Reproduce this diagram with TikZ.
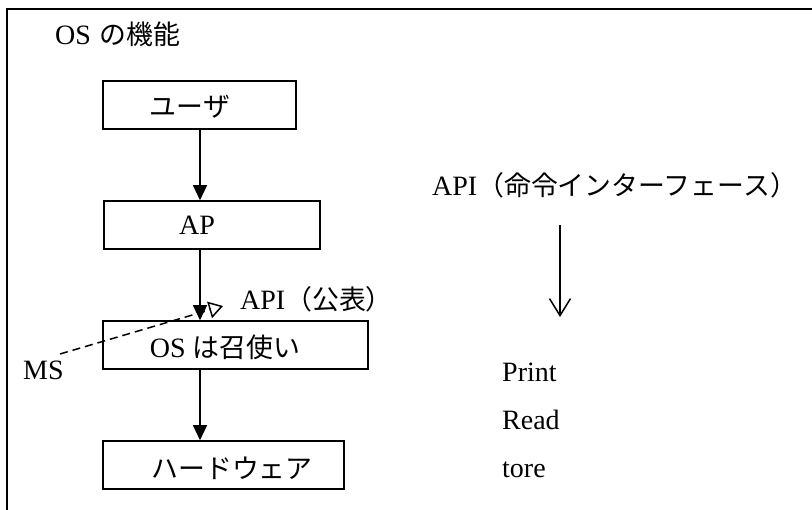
\documentclass[tikz,border=0pt]{standalone}
\usepackage{fontspec}
\setmainfont{Liberation Serif}
\newfontfamily\jp[Scale=0.96]{Noto Sans CJK JP}
\usetikzlibrary{arrows.meta}
\begin{document}
\begin{tikzpicture}[x=1pt,y=-1pt,
  box/.style={draw, line width=1.6pt, minimum height=48pt, inner sep=0pt},
  txt/.style={inner sep=0pt, font=\fontsize{28}{32}\selectfont},
  flow/.style={line width=1.6pt, -{Triangle[length=15pt,width=14pt]}},
  barb/.style={line width=1.5pt, -{Straight Barb[length=17pt,width=21pt,line width=1.5pt]}},
  dashlink/.style={line width=1.5pt, dash pattern=on 8pt off 5pt, -{Triangle[open,length=14pt,width=17pt,line width=1.5pt]}}]
\useasboundingbox (0,0) rectangle (812,510);
% frame
\draw[line width=2pt] (7,510) -- (7,9) -- (812,9);
% title
\node[txt, anchor=base west] (title) at (55,45) {OS\hspace{9pt}{\jp の機能}};
% boxes
\node[box, minimum width=193pt] (user) at (199.5,105) {};
\node[box, minimum width=216pt] (ap) at (212,225) {};
\node[box, minimum width=265pt] (os) at (235.5,345) {};
\node[box, minimum width=241pt] (hw) at (223.5,465) {};
% box texts
\node[txt] (usert) at (190,107) {\jp ユーザ};
\node[txt, anchor=base] (apt) at (197,235) {AP};
\node[txt, anchor=base] (ost) at (225,358) {OS {\jp は召使い}};
\node[txt] (hwt) at (232,468) {\jp ハードウェア};
% flow arrows
\coordinate (ax) at (200,0);
\draw[flow] (ax |- user.south) -- (ax |- ap.north);
\draw[flow] (ax |- ap.south) -- (ax |- os.north);
\draw[flow] (ax |- os.south) -- (ax |- hw.north);
% API (public) and MS
\node[txt, anchor=base west] (apipub) at (240,310) {API{\jp （公表）}};
\node[txt, anchor=base west] (ms) at (23,380) {MS};
\coordinate (msend) at (60,354);
\coordinate (apitip) at (223,306);
\draw[dashlink] (msend) -- (apitip);
% right side
\node[txt, anchor=base west] (apicmd) at (432,196) {API{\jp （命令インターフェース）}};
\coordinate (r1) at (560,225);
\coordinate (r2) at (560,317);
\draw[barb] (r1) -- (r2);
\node[txt, anchor=base west] (print) at (502,382) {Print};
\node[txt, anchor=base west] (read) at (502,430) {Read};
\node[txt, anchor=base west] (tore) at (502,478) {tore};
\end{tikzpicture}
\end{document}
